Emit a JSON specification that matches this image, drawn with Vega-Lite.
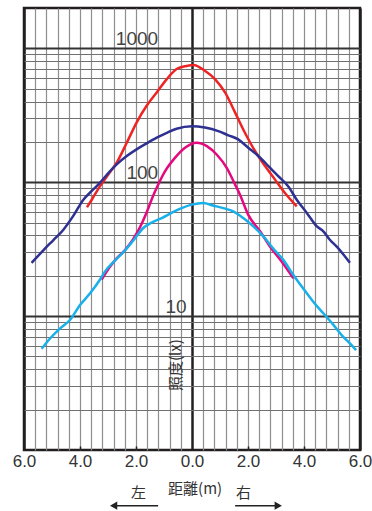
{
  "$schema": "https://vega.github.io/schema/vega-lite/v6.json",
  "width": 336,
  "height": 442,
  "autosize": "none",
  "padding": {"left": 24, "top": 8, "right": 12, "bottom": 61},
  "background": "white",
  "config": {"view": {"stroke": "#231f20", "strokeWidth": 2.5}},
  "datasets": {
    "curves": [
      {"series": "A", "x": -3.75, "lux": 65},
      {"series": "A", "x": -3.58, "lux": 74},
      {"series": "A", "x": -3.29, "lux": 93},
      {"series": "A", "x": -2.99, "lux": 114},
      {"series": "A", "x": -2.69, "lux": 140},
      {"series": "A", "x": -2.33, "lux": 197},
      {"series": "A", "x": -1.98, "lux": 279},
      {"series": "A", "x": -1.62, "lux": 372},
      {"series": "A", "x": -1.26, "lux": 468},
      {"series": "A", "x": -0.9, "lux": 589},
      {"series": "A", "x": -0.55, "lux": 700},
      {"series": "A", "x": -0.2, "lux": 738},
      {"series": "A", "x": 0.05, "lux": 750},
      {"series": "A", "x": 0.46, "lux": 680},
      {"series": "A", "x": 0.82, "lux": 589},
      {"series": "A", "x": 1.18, "lux": 468},
      {"series": "A", "x": 1.54, "lux": 331},
      {"series": "A", "x": 1.89, "lux": 234},
      {"series": "A", "x": 2.25, "lux": 171},
      {"series": "A", "x": 2.61, "lux": 132},
      {"series": "A", "x": 2.96, "lux": 105},
      {"series": "A", "x": 3.32, "lux": 83},
      {"series": "A", "x": 3.74, "lux": 66},

      {"series": "B", "x": -5.73, "lux": 25},
      {"series": "B", "x": -5.31, "lux": 31},
      {"series": "B", "x": -4.95, "lux": 37},
      {"series": "B", "x": -4.6, "lux": 44},
      {"series": "B", "x": -4.24, "lux": 56},
      {"series": "B", "x": -3.88, "lux": 74},
      {"series": "B", "x": -3.58, "lux": 86},
      {"series": "B", "x": -3.29, "lux": 99},
      {"series": "B", "x": -2.99, "lux": 117},
      {"series": "B", "x": -2.69, "lux": 136},
      {"series": "B", "x": -2.33, "lux": 157},
      {"series": "B", "x": -1.98, "lux": 176},
      {"series": "B", "x": -1.62, "lux": 195},
      {"series": "B", "x": -1.26, "lux": 215},
      {"series": "B", "x": -0.9, "lux": 234},
      {"series": "B", "x": -0.55, "lux": 251},
      {"series": "B", "x": 0.0, "lux": 262},
      {"series": "B", "x": 0.46, "lux": 256},
      {"series": "B", "x": 0.94, "lux": 241},
      {"series": "B", "x": 1.3, "lux": 224},
      {"series": "B", "x": 1.65, "lux": 209},
      {"series": "B", "x": 2.01, "lux": 181},
      {"series": "B", "x": 2.37, "lux": 157},
      {"series": "B", "x": 2.73, "lux": 132},
      {"series": "B", "x": 3.08, "lux": 111},
      {"series": "B", "x": 3.44, "lux": 93},
      {"series": "B", "x": 3.74, "lux": 74},
      {"series": "B", "x": 4.1, "lux": 59},
      {"series": "B", "x": 4.45, "lux": 47},
      {"series": "B", "x": 4.69, "lux": 43},
      {"series": "B", "x": 4.93, "lux": 37},
      {"series": "B", "x": 5.17, "lux": 33},
      {"series": "B", "x": 5.4, "lux": 29},
      {"series": "B", "x": 5.64, "lux": 25},

      {"series": "C", "x": -3.23, "lux": 18.7},
      {"series": "C", "x": -2.93, "lux": 23.4},
      {"series": "C", "x": -2.69, "lux": 27},
      {"series": "C", "x": -2.4, "lux": 31},
      {"series": "C", "x": -2.12, "lux": 37},
      {"series": "C", "x": -1.86, "lux": 46},
      {"series": "C", "x": -1.56, "lux": 64},
      {"series": "C", "x": -1.38, "lux": 80},
      {"series": "C", "x": -1.26, "lux": 91},
      {"series": "C", "x": -0.96, "lux": 121},
      {"series": "C", "x": -0.61, "lux": 152},
      {"series": "C", "x": -0.25, "lux": 181},
      {"series": "C", "x": 0.17, "lux": 197},
      {"series": "C", "x": 0.53, "lux": 186},
      {"series": "C", "x": 0.88, "lux": 161},
      {"series": "C", "x": 1.24, "lux": 128},
      {"series": "C", "x": 1.54, "lux": 96},
      {"series": "C", "x": 1.71, "lux": 81},
      {"series": "C", "x": 2.01, "lux": 57},
      {"series": "C", "x": 2.43, "lux": 43},
      {"series": "C", "x": 2.79, "lux": 33},
      {"series": "C", "x": 3.2, "lux": 25.6},
      {"series": "C", "x": 3.62, "lux": 19.2},

      {"series": "D", "x": -5.37, "lux": 5.7},
      {"series": "D", "x": -5.07, "lux": 6.8},
      {"series": "D", "x": -4.71, "lux": 8.1},
      {"series": "D", "x": -4.36, "lux": 9.35},
      {"series": "D", "x": -4.0, "lux": 12.1},
      {"series": "D", "x": -3.64, "lux": 14.8},
      {"series": "D", "x": -3.29, "lux": 18.7},
      {"series": "D", "x": -3.11, "lux": 21.5},
      {"series": "D", "x": -2.75, "lux": 26},
      {"series": "D", "x": -2.39, "lux": 31},
      {"series": "D", "x": -2.04, "lux": 38},
      {"series": "D", "x": -1.74, "lux": 45.5},
      {"series": "D", "x": -1.44, "lux": 50},
      {"series": "D", "x": -1.08, "lux": 54},
      {"series": "D", "x": -0.73, "lux": 59},
      {"series": "D", "x": -0.37, "lux": 64},
      {"series": "D", "x": -0.01, "lux": 68},
      {"series": "D", "x": 0.4, "lux": 70},
      {"series": "D", "x": 0.75, "lux": 67},
      {"series": "D", "x": 1.12, "lux": 64},
      {"series": "D", "x": 1.47, "lux": 60.6},
      {"series": "D", "x": 1.83, "lux": 54},
      {"series": "D", "x": 2.19, "lux": 46.8},
      {"series": "D", "x": 2.55, "lux": 39.4},
      {"series": "D", "x": 2.9, "lux": 32},
      {"series": "D", "x": 3.26, "lux": 26.3},
      {"series": "D", "x": 3.62, "lux": 20.3},
      {"series": "D", "x": 3.97, "lux": 16.1},
      {"series": "D", "x": 4.33, "lux": 12.8},
      {"series": "D", "x": 4.69, "lux": 10.5},
      {"series": "D", "x": 5.05, "lux": 8.6},
      {"series": "D", "x": 5.4, "lux": 7.0},
      {"series": "D", "x": 5.64, "lux": 6.25},
      {"series": "D", "x": 5.86, "lux": 5.57}
    ],
    "decades": [
      {"text": "1000", "x": -1.21, "lux": 1000},
      {"text": "100", "x": -1.21, "lux": 100},
      {"text": "10", "x": -0.19, "lux": 10}
    ],
    "ytitle": [
      {"text": "照度(lx)", "x": -0.57, "lux": 4.3}
    ],
    "xtitle": [
      {"text": "距離(m)", "x": 0.11, "lux": 0.51},
      {"text": "左", "x": -1.91, "lux": 0.48},
      {"text": "右", "x": 1.84, "lux": 0.48}
    ],
    "arrows": [
      {"dir": "left", "x": -2.85, "x2": -1.21, "head": -2.8, "lux": 0.384},
      {"dir": "right", "x": 1.54, "x2": 3.13, "head": 3.08, "lux": 0.384}
    ]
  },
  "layer": [
    {
      "data": {"name": "curves"},
      "mark": {"type": "line", "strokeWidth": 2.5, "interpolate": "monotone"},
      "encoding": {
        "x": {
          "field": "x", "type": "quantitative",
          "scale": {"domain": [-6, 6], "nice": false, "zero": false},
          "axis": {
            "orient": "bottom",
            "values": [-6, -5.6, -5.2, -4.8, -4.4, -4, -3.6, -3.2, -2.8, -2.4, -2, -1.6, -1.2, -0.8, -0.4, 0, 0.4, 0.8, 1.2, 1.6, 2, 2.4, 2.8, 3.2, 3.6, 4, 4.4, 4.8, 5.2, 5.6, 6],
            "tickCount": 200,
            "labelExpr": "abs(datum.value) % 2 == 0 ? format(abs(datum.value), '.1f') : ''",
            "labelFlush": false,
            "labelOverlap": false,
            "labelBound": false,
            "labelFont": "Liberation Sans",
            "labelFontSize": 17,
            "labelColor": "#333333",
            "labelPadding": 7,
            "ticks": true,
            "tickSize": -4,
            "tickWidth": 1.5,
            "tickColor": "#231f20",
            "tickOpacity": {"condition": {"test": "abs(datum.value) == 2 || abs(datum.value) == 4", "value": 1}, "value": 0},
            "domain": false,
            "title": null,
            "grid": true,
            "gridColor": {"condition": {"test": "datum.value == 0 || abs(datum.value) == 6", "value": "#231f20"}, "value": "#8e8e8e"},
            "gridWidth": {"condition": {"test": "datum.value == 0 || abs(datum.value) == 6", "value": 2.5}, "value": 1.2},
            "gridOpacity": 1
          }
        },
        "y": {
          "field": "lux", "type": "quantitative",
          "scale": {"type": "log", "domain": [1, 2000], "nice": false, "zero": false},
          "axis": {
            "values": [2, 3, 4, 5, 6, 7, 8, 9, 10, 20, 30, 40, 50, 60, 70, 80, 90, 100, 200, 300, 400, 500, 600, 700, 800, 900, 1000],
            "tickCount": 200,
            "labels": false,
            "ticks": false,
            "domain": false,
            "title": null,
            "grid": true,
            "gridColor": {"condition": {"test": "datum.value == 10 || datum.value == 100 || datum.value == 1000", "value": "#333333"}, "value": "#707070"},
            "gridWidth": {"condition": {"test": "datum.value == 10 || datum.value == 100 || datum.value == 1000", "value": 2}, "value": 1},
            "gridOpacity": 1
          }
        },
        "color": {
          "field": "series", "type": "nominal",
          "scale": {"domain": ["A", "B", "C", "D"], "range": ["#ee2424", "#2e3192", "#e5097f", "#18b0ea"]},
          "legend": null
        }
      }
    },
    {
      "data": {"name": "decades"},
      "mark": {"type": "text", "align": "right", "baseline": "alphabetic", "dy": -3, "font": "Liberation Sans", "fontSize": 19, "color": "#444444"},
      "encoding": {
        "x": {"field": "x", "type": "quantitative"},
        "y": {"field": "lux", "type": "quantitative"},
        "text": {"field": "text"}
      }
    },
    {
      "data": {"name": "ytitle"},
      "mark": {"type": "text", "align": "center", "baseline": "middle", "angle": 270, "font": "Noto Sans CJK JP", "fontSize": 15, "color": "#333333"},
      "encoding": {
        "x": {"field": "x", "type": "quantitative"},
        "y": {"field": "lux", "type": "quantitative"},
        "text": {"field": "text"}
      }
    },
    {
      "data": {"name": "xtitle"},
      "mark": {"type": "text", "align": "center", "baseline": "middle", "font": "Noto Sans CJK JP", "fontSize": 15, "color": "#333333"},
      "encoding": {
        "x": {"field": "x", "type": "quantitative"},
        "y": {"field": "lux", "type": "quantitative"},
        "text": {"field": "text"}
      }
    },
    {
      "data": {"name": "arrows"},
      "mark": {"type": "rule", "strokeWidth": 1.5, "color": "#222222"},
      "encoding": {
        "x": {"field": "x", "type": "quantitative"},
        "x2": {"field": "x2"},
        "y": {"field": "lux", "type": "quantitative"}
      }
    },
    {
      "data": {"name": "arrows"},
      "mark": {"type": "point", "filled": true, "size": 70, "opacity": 1, "color": "#222222"},
      "encoding": {
        "x": {"field": "head", "type": "quantitative"},
        "y": {"field": "lux", "type": "quantitative"},
        "shape": {"field": "dir", "type": "nominal", "scale": {"domain": ["left", "right"], "range": ["triangle-left", "triangle-right"]}, "legend": null}
      }
    }
  ]
}
